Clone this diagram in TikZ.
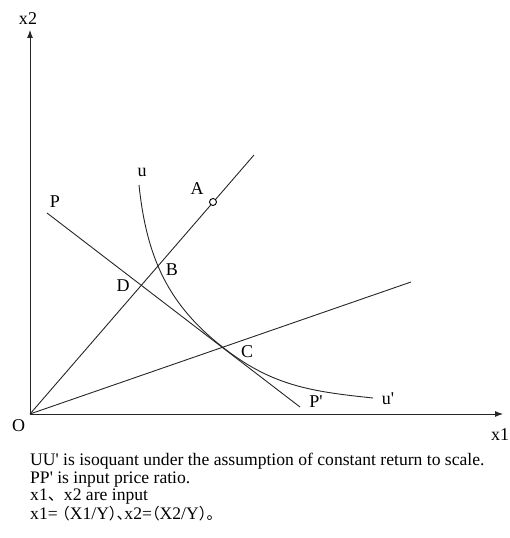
\documentclass[tikz,border=0pt]{standalone}
\usepackage{fontspec}
\setmainfont{Liberation Serif}[Ligatures=TeXOff]
\newfontfamily\cjk{Noto Sans CJK SC}[Scale=0.92]
\newfontfamily\cjkhalf{Noto Sans CJK SC}[RawFeature=+halt,Scale=0.88]
\usetikzlibrary{arrows.meta}
\begin{document}
\begin{tikzpicture}[x=1pt,y=1pt,
  ln/.style={line width=0.9pt, black!85},
  axisln/.style={line width=0.9pt, black!85, -{Latex[length=8pt,width=6pt]}},
  lbl/.style={font=\fontsize{18}{20}\selectfont, inner sep=0pt},
  capt/.style={font=\fontsize{17.6}{18}\selectfont, anchor=base west, inner sep=0pt},
  dot/.style={circle, draw, fill=white, line width=0.9pt, minimum size=7pt, inner sep=0pt}]
\useasboundingbox (0,0) rectangle (509,538);
% axes
\coordinate (O) at (30,124);
\coordinate (xend) at (503,124);
\coordinate (yend) at (30,508);
\draw[axisln] (O) -- (xend);
\draw[axisln] (O) -- (yend);
\node[lbl] (lx2) at (28,519) {x2};
\node[lbl] (lx1) at (500,103) {x1};
\node[lbl] (lO) at (18.5,112) {O};
% rays
\coordinate (Aend) at (254,383);
\coordinate (Cend) at (411,256);
\draw[ln] (O) -- (Aend);
\draw[ln] (O) -- (Cend);
% price line
\coordinate (P) at (47,325);
\coordinate (Pp) at (300,131);
\draw[ln] (P) -- (Pp);
\node[lbl] (lP) at (55,336) {P};
\node[lbl] (lPp) at (316,136) {P'};
% isoquant
\coordinate (U) at (139,353);
\coordinate (C) at (225,189);
\coordinate (Up) at (373,140);
\draw[ln] (U) to[out=-84,in=142.5] (C) to[out=-37.5,in=174] (Up);
\node[lbl] (lu) at (142,366) {u};
\node[lbl] (lup) at (388,139) {u'};
% points
\node[dot] (A) at (213,336) {};
\node[lbl] (lA) at (197,349) {A};
\node[lbl] (lB) at (172,268) {B};
\node[lbl] (lC) at (247,186) {C};
\node[lbl] (lD) at (123,252) {D};
% caption
\node[capt] (cap1) at (30,72.5) {UU' is isoquant under the assumption of constant return to scale.};
\node[capt] (cap2) at (30,54.5) {PP' is input price ratio.};
\node[capt] (cap3) at (30,37) {x1{\cjk 、}x2 are input};
\node[capt] (cap4) at (30,18.5) {x1= {\cjkhalf （}X1/Y{\cjkhalf ）、}x2={\cjkhalf （}X2/Y{\cjkhalf ）。}};
\end{tikzpicture}
\end{document}
